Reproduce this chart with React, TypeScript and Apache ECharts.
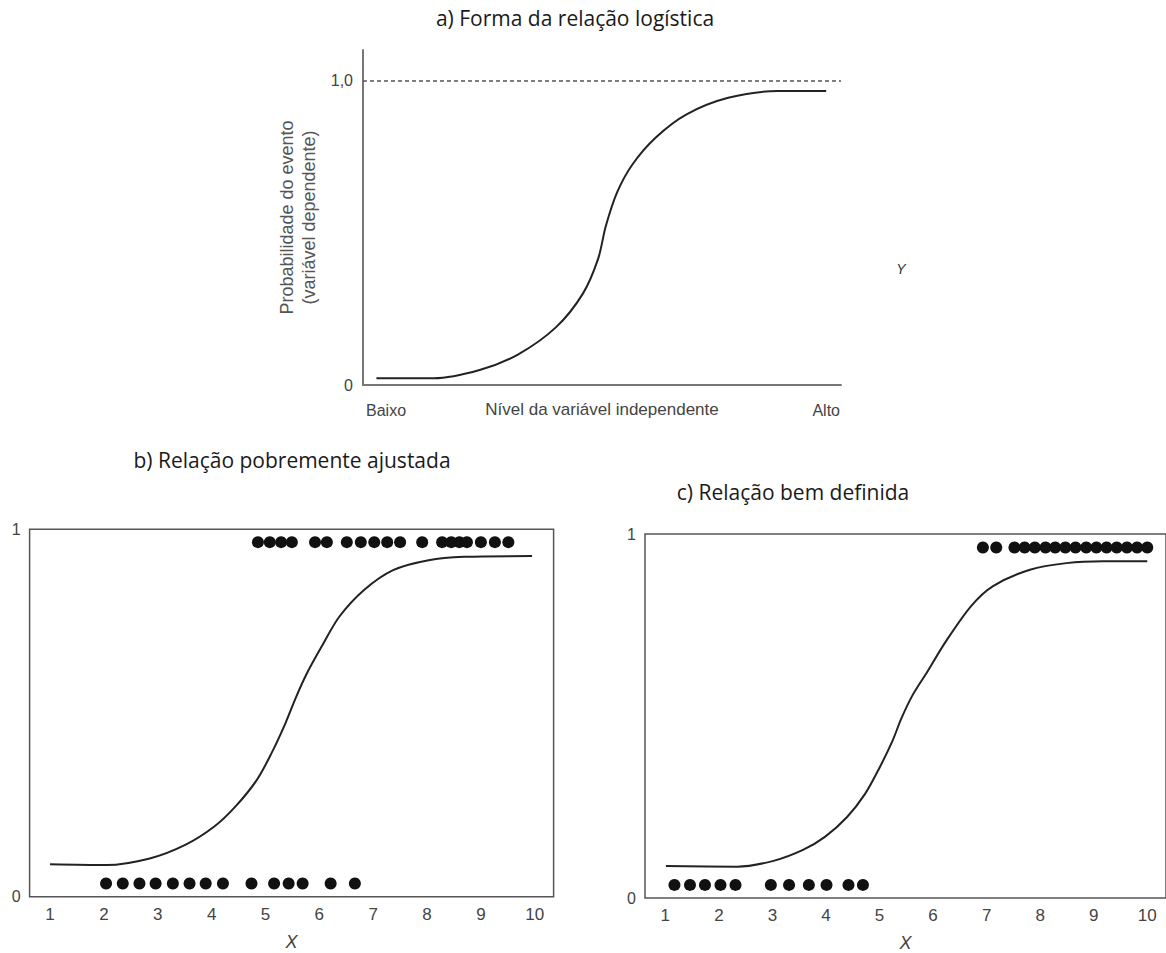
import React, { useEffect, useRef } from "react";
import * as echarts from "echarts";

// ---- Panel a: logistic curve shape ----
const aCurveX = [0.28, 1.48, 2.44, 3.24, 4.04, 4.6, 4.92, 5.08, 5.32, 5.64, 6.12, 6.76, 7.64, 8.68, 9.69];
const aCurveY = [0.022, 0.022, 0.049, 0.1, 0.19, 0.3, 0.415, 0.522, 0.634, 0.725, 0.812, 0.888, 0.943, 0.965, 0.965];
const aYTicks = [0, 1];
const aYTickLabels = ["0", "1,0"];

// ---- Panel b: poorly fitted relationship ----
const bCurveX = [1.0, 2.05, 2.85, 3.51, 4.05, 4.44, 4.84, 5.11, 5.37, 5.57, 5.77, 6.04, 6.37, 6.83, 7.37, 8.03, 8.69, 9.95];
const bCurveY = [0.088, 0.086, 0.104, 0.141, 0.191, 0.245, 0.318, 0.39, 0.472, 0.544, 0.608, 0.68, 0.762, 0.835, 0.889, 0.916, 0.925, 0.927];
const bTopX = [4.86, 5.08, 5.29, 5.49, 5.92, 6.14, 6.51, 6.77, 7.02, 7.26, 7.5, 7.91, 8.28, 8.45, 8.6, 8.74, 9.0, 9.26, 9.51];
const bTopY = 0.965;
const bBottomX = [2.04, 2.35, 2.66, 2.96, 3.28, 3.59, 3.89, 4.21, 4.74, 5.16, 5.43, 5.69, 6.21, 6.66];
const bBottomY = 0.036;

// ---- Panel c: well defined relationship ----
const cCurveX = [1.01, 2.34, 3.02, 3.57, 3.98, 4.39, 4.73, 5.0, 5.24, 5.41, 5.62, 5.89, 6.23, 6.71, 7.12, 7.81, 8.49, 9.18, 10.0];
const cCurveY = [0.088, 0.086, 0.102, 0.132, 0.168, 0.222, 0.286, 0.358, 0.431, 0.494, 0.558, 0.621, 0.703, 0.802, 0.857, 0.902, 0.92, 0.925, 0.925];
const cTopX = [6.93, 7.18, 7.52, 7.71, 7.9, 8.1, 8.28, 8.47, 8.66, 8.86, 9.05, 9.24, 9.43, 9.62, 9.81, 10.0];
const cTopY = 0.963;
const cBottomX = [1.17, 1.46, 1.74, 2.03, 2.31, 2.97, 3.31, 3.68, 4.01, 4.42, 4.69];
const cBottomY = 0.036;

const xTickValues = [1, 2, 3, 4, 5, 6, 7, 8, 9, 10];
const yTickValues = [0, 1];

const titleA = "a) Forma da relação logística";
const titleB = "b) Relação pobremente ajustada";
const titleC = "c) Relação bem definida";

const FONT = "'Liberation Sans', Arial, sans-serif";
const TITLE_FONT = "'Open Sans', 'Noto Sans', sans-serif";
const GRAY = "#444";

function pairs(xs: number[], ys: number[]) {
  return xs.map((x, i) => [x, ys[i]]);
}
function flat(xs: number[], y: number) {
  return xs.map((x) => [x, y]);
}

export default function App() {
  const ref = useRef<HTMLDivElement>(null);
  useEffect(() => {
    document.body.style.margin = "0";
    const chart = echarts.init(ref.current!, null, { renderer: "svg" });
    const boxAxisX = (gridIndex: number) => ({
      type: "value",
      gridIndex,
      min: 0.62,
      max: 10.35,
      axisLine: { show: false },
      axisTick: { show: false },
      splitLine: { show: false },
      axisLabel: {
        customValues: xTickValues,
        color: GRAY,
        fontFamily: FONT,
        fontSize: 17,
        margin: 9,
      },
      name: "X",
      nameLocation: "middle",
      nameGap: 36,
      nameTextStyle: { color: GRAY, fontFamily: FONT, fontSize: 18, fontStyle: "italic" },
    });
    const boxAxisY = (gridIndex: number) => ({
      type: "value",
      gridIndex,
      min: 0,
      max: 1,
      axisLine: { show: false },
      axisTick: { show: false },
      splitLine: { show: false },
      axisLabel: {
        customValues: yTickValues,
        color: GRAY,
        fontFamily: FONT,
        fontSize: 16,
        margin: 9,
      },
    });
    const lineSeries = (idx: number, data: number[][]) => ({
      type: "line",
      xAxisIndex: idx,
      yAxisIndex: idx,
      data,
      smooth: 0.3,
      symbol: "none",
      lineStyle: { color: "#222", width: 2 },
      silent: true,
    });
    const dotSeries = (idx: number, data: number[][]) => ({
      type: "scatter",
      xAxisIndex: idx,
      yAxisIndex: idx,
      data,
      symbol: "circle",
      symbolSize: 12,
      itemStyle: { color: "#111", opacity: 1 },
      silent: true,
    });

    chart.setOption({
      animation: false,
      backgroundColor: "#fff",
      grid: [
        { left: 363, width: 478, top: 50, height: 335 },
        {
          left: 29.6,
          width: 524,
          top: 529.3,
          height: 367.4,
          show: true,
          borderColor: "#555",
          borderWidth: 1.5,
        },
        {
          left: 645,
          width: 522.5,
          top: 534,
          height: 367.7,
          show: true,
          borderColor: "#555",
          borderWidth: 1.5,
        },
      ],
      xAxis: [
        {
          type: "value",
          gridIndex: 0,
          min: 0,
          max: 10,
          axisLine: { show: true, lineStyle: { color: "#777", width: 2 } },
          axisTick: { show: false },
          axisLabel: { show: false },
          splitLine: { show: false },
          name: "Nível da variável independente",
          nameLocation: "middle",
          nameGap: 16,
          nameTextStyle: { color: GRAY, fontFamily: FONT, fontSize: 17 },
        },
        boxAxisX(1),
        boxAxisX(2),
      ],
      yAxis: [
        {
          type: "value",
          gridIndex: 0,
          min: 0,
          max: 1.1,
          axisLine: { show: true, lineStyle: { color: "#777", width: 2 } },
          axisTick: { show: false },
          splitLine: { show: false },
          axisLabel: {
            customValues: aYTicks,
            formatter: (v: number) => aYTickLabels[aYTicks.indexOf(v)] ?? "",
            color: GRAY,
            fontFamily: FONT,
            fontSize: 16,
            margin: 10,
          },
          name: "Probabilidade do evento\n(variável dependente)",
          nameLocation: "middle",
          nameRotate: 90,
          nameGap: 43,
          nameTextStyle: { color: "#555", fontFamily: FONT, fontSize: 18, lineHeight: 22 },
        },
        boxAxisY(1),
        boxAxisY(2),
      ],
      series: [
        {
          ...lineSeries(0, pairs(aCurveX, aCurveY)),
          markLine: {
            silent: true,
            symbol: "none",
            label: { show: false },
            lineStyle: { type: [4, 3], color: "#555", width: 1.5 },
            data: [{ yAxis: 1 }],
          },
        },
        lineSeries(1, pairs(bCurveX, bCurveY)),
        dotSeries(1, flat(bTopX, bTopY)),
        dotSeries(1, flat(bBottomX, bBottomY)),
        lineSeries(2, pairs(cCurveX, cCurveY)),
        dotSeries(2, flat(cTopX, cTopY)),
        dotSeries(2, flat(cBottomX, cBottomY)),
      ],
      graphic: [
        {
          type: "text",
          x: 575,
          y: 18,
          style: { text: titleA, align: "center", verticalAlign: "middle", fill: "#1a1a1a", font: `21px ${TITLE_FONT}` },
        },
        {
          type: "text",
          x: 292,
          y: 460,
          style: { text: titleB, align: "center", verticalAlign: "middle", fill: "#1a1a1a", font: `21px ${TITLE_FONT}` },
        },
        {
          type: "text",
          x: 793,
          y: 492,
          style: { text: titleC, align: "center", verticalAlign: "middle", fill: "#1a1a1a", font: `21px ${TITLE_FONT}` },
        },
        {
          type: "text",
          x: 366,
          y: 410,
          style: { text: "Baixo", align: "left", verticalAlign: "middle", fill: GRAY, font: `16px ${FONT}` },
        },
        {
          type: "text",
          x: 840,
          y: 410,
          style: { text: "Alto", align: "right", verticalAlign: "middle", fill: GRAY, font: `16px ${FONT}` },
        },
        {
          type: "text",
          x: 901,
          y: 269,
          style: { text: "Y", align: "center", verticalAlign: "middle", fill: "#333", font: `italic 14px ${FONT}` },
        },
      ],
    });
    return () => chart.dispose();
  }, []);
  return <div ref={ref} style={{ position: "absolute", left: 0, top: 0, width: 1166, height: 953 }} />;
}
